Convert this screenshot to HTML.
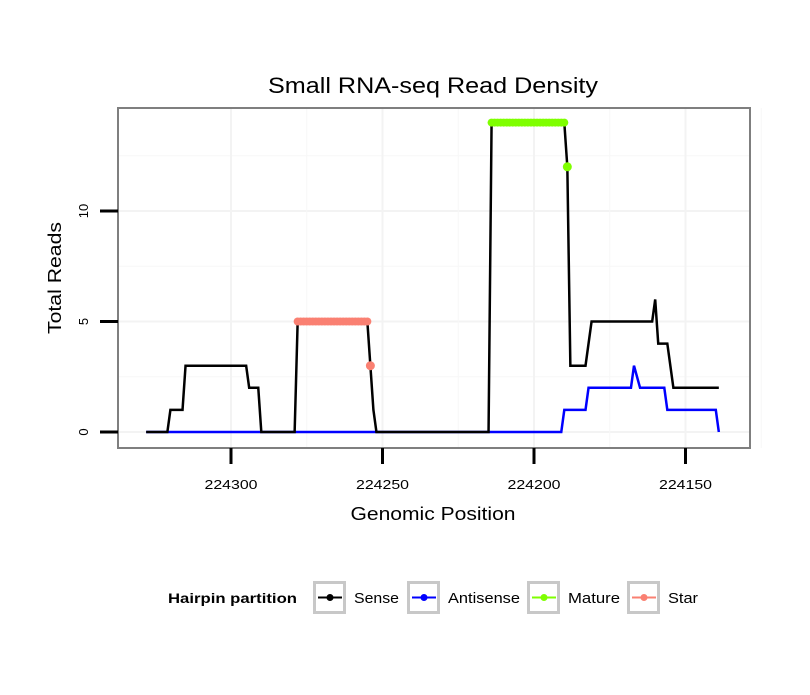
<!DOCTYPE html>
<html><head><meta charset="utf-8"><style>
body{margin:0;background:#fff;}
svg text{font-family:"Liberation Sans",sans-serif;}
</style></head><body>
<svg id="chart" width="810" height="690" xmlns="http://www.w3.org/2000/svg">
<rect width="810" height="690" fill="#fff"/>
<text x="433" y="93" font-size="22" text-anchor="middle" textLength="330" lengthAdjust="spacingAndGlyphs">Small RNA-seq Read Density</text>
<g id="grid"></g>
<g id="series"></g>
<rect x="118" y="108" width="632" height="340" fill="none" stroke="#7f7f7f" stroke-width="2"/>
<g id="axes"></g>
<text x="433" y="520" font-size="18" text-anchor="middle" textLength="165" lengthAdjust="spacingAndGlyphs">Genomic Position</text>
<text transform="translate(61,278) rotate(-90)" font-size="18" text-anchor="middle" textLength="112" lengthAdjust="spacingAndGlyphs">Total Reads</text>
<g id="legend"></g>
</svg>
<script>
const sensePos=[224328,224321,224320,224316,224315,224295,224294,224291,224290,224279,224278,224255,224254,224253,224252,224215,224214,224190,224189,224188,224183,224181,224161,224160,224159,224156,224154,224139];
const senseVal=[0,0,1,1,3,3,2,2,0,0,5,5,3,1,0,0,14,14,12,3,3,5,5,6,4,4,2,2];
const antiPos=[224328,224191,224190,224183,224182,224168,224167,224165,224157,224156,224140,224139];
const antiVal=[0,0,1,1,2,2,3,2,2,1,1,0];
const starStart=224278, starEnd=224255, starVal=5, starExtraPos=[224254], starExtraVal=[3];
const matureStart=224214, matureEnd=224190, matureVal=14, matureExtraPos=[224189], matureExtraVal=[12];
const xTicks=[224300,224250,224200,224150];
const yTicks=[0,5,10];

const NS="http://www.w3.org/2000/svg";
const X=p=>231+(224300-p)*3.03;
const Y=v=>432-v*22.1;
function mk(tag,attrs,parent){const e=document.createElementNS(NS,tag);for(const k in attrs)e.setAttribute(k,attrs[k]);parent.appendChild(e);return e;}
const grid=document.getElementById('grid'),ser=document.getElementById('series'),axes=document.getElementById('axes'),leg=document.getElementById('legend');
yTicks.forEach((t,i)=>{const g=mk('line',{x1:118,x2:750,y1:Y(t),y2:Y(t),stroke:'#f3f3f3','stroke-width':2},grid);


const m=mk('line',{x1:118,x2:750,y1:Y(t+2.5),y2:Y(t+2.5),stroke:'#f7f7f7','stroke-width':1},grid);

});
xTicks.forEach(t=>{const g=mk('line',{x1:X(t),x2:X(t),y1:108,y2:448,stroke:'#f3f3f3','stroke-width':2},grid);


const m=mk('line',{x1:X(t-25),x2:X(t-25),y1:108,y2:448,stroke:'#f7f7f7','stroke-width':1},grid);

});
xTicks.forEach(t=>{const l=mk('line',{x1:X(t),x2:X(t),y1:448,y2:464,stroke:'#000','stroke-width':3},axes);


const tx=mk('text',{x:X(t),y:489,'font-size':13,'text-anchor':'middle',textLength:53,lengthAdjust:'spacingAndGlyphs'},axes);tx.textContent=t;

});
yTicks.forEach(t=>{const l=mk('line',{x1:100,x2:118,y1:Y(t),y2:Y(t),stroke:'#000','stroke-width':3},axes);


const tx=mk('text',{transform:`translate(88,${Y(t)}) rotate(-90)`,'font-size':13,'text-anchor':'middle'},axes);tx.textContent=t;

});
const pts=(P,V)=>P.map((p,i)=>X(p)+','+Y(V[i])).join(' ');
const a=mk('polyline',{points:pts(antiPos,antiVal),fill:'none',stroke:'#0000ff','stroke-width':2.5},ser);


const s=mk('polyline',{points:pts(sensePos,senseVal),fill:'none',stroke:'#000','stroke-width':2.5},ser);


function dots(start,end,val,ex,exv,col,name){
 for(let p=start;p>=end;p--){const c=mk('circle',{cx:X(p),cy:Y(val),r:4,fill:col},ser);
 
 }
 ex.forEach((p,i)=>{const c=mk('circle',{cx:X(p),cy:Y(exv[i]),r:4.5,fill:col},ser);
 
 });
}
dots(starStart,starEnd,starVal,starExtraPos,starExtraVal,'#fa8072','star');
dots(matureStart,matureEnd,matureVal,matureExtraPos,matureExtraVal,'#7fff00','mature');
const lt=mk('text',{x:168,y:603,'font-size':14,'font-weight':'bold',textLength:129,lengthAdjust:'spacingAndGlyphs'},leg);lt.textContent='Hairpin partition';


const entries=[['Sense','#000',313,45],['Antisense','#0000ff',407,72],['Mature','#7fff00',527,52],['Star','#fa8072',627,30]];
entries.forEach(([n,c,x,w])=>{
 const g=mk('g',{},leg);
 
 
 mk('rect',{x:x+1.5,y:582.5,width:30,height:30,fill:'#fff',stroke:'#c8c8c8','stroke-width':3},g);
 mk('line',{x1:x+5,x2:x+29,y1:597.5,y2:597.5,stroke:c,'stroke-width':2},g);
 mk('circle',{cx:x+17,cy:597.5,r:3.5,fill:c},g);
 const t=mk('text',{x:x+41,y:603,'font-size':15,textLength:w,lengthAdjust:'spacingAndGlyphs'},g);t.textContent=n;
});
</script>
</body></html>
